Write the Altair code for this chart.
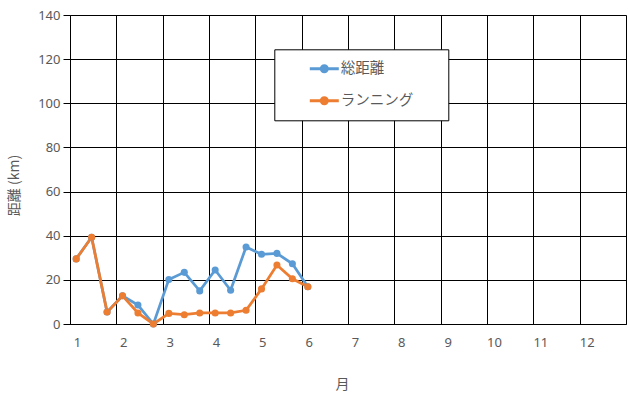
import altair as alt
import pandas as pd

# ---- data ----
months = [1, 1, 1, 2, 2, 2, 3, 3, 3, 4, 4, 4, 5, 5, 5, 6]
days = [5, 15, 25, 5, 15, 25, 5, 15, 25, 5, 15, 25, 5, 15, 25, 5]
total_km = [29.5, 39.3, 5.4, 12.8, 8.6, 0.0, 20.2, 23.4, 15.0, 24.5, 15.3, 34.9, 31.6, 32.0, 27.3, 16.9]
running_km = [29.5, 39.3, 5.4, 12.8, 5.0, 0.0, 4.8, 4.2, 5.0, 5.0, 5.0, 6.2, 15.9, 26.7, 20.5, 16.9]
series_names = ["総距離", "ランニング"]
series_colors = ["#5B9BD5", "#ED7D31"]
x_ticks = list(range(1, 14))
y_ticks = [0, 20, 40, 60, 80, 100, 120, 140]

rows = []
for name, vals in zip(series_names, [total_km, running_km]):
    for m, d, v in zip(months, days, vals):
        rows.append({"month": m + (d - 1) / 30.0, "km": v, "series": name})
df = pd.DataFrame(rows)
df["order"] = range(len(df))

JP = "Noto Sans CJK JP"
NUM = "Noto Sans"
GRAY = "#595959"

x_enc = alt.X(
    "month:Q",
    scale=alt.Scale(domain=[1, 13], nice=False, zero=False),
    axis=alt.Axis(
        values=x_ticks,
        labelExpr="datum.value == 13 ? '' : datum.label",
        grid=True, gridColor="black", gridOpacity=1, gridWidth=1,
        ticks=False, domainColor="black", domainWidth=1,
        labelFont=NUM, labelFontSize=13, labelColor=GRAY,
        labelAlign="center", labelOffset=7, labelPadding=12,
        title="月", titleFont=JP, titleFontSize=14, titleFontWeight="normal",
        titleColor=GRAY, titleX=272, titleY=60, titleBaseline="middle",
        titleAlign="center",
    ),
)
y_enc = alt.Y(
    "km:Q",
    scale=alt.Scale(domain=[0, 140], nice=False),
    axis=alt.Axis(
        values=y_ticks,
        grid=True, gridColor="black", gridOpacity=1, gridWidth=1,
        ticks=True, tickSize=7, tickColor="black", domainColor="black",
        labelFont=NUM, labelFontSize=13, labelColor=GRAY, labelPadding=3,
        title="距離 (km)", titleFont=JP, titleFontSize=14, titleFontWeight="normal",
        titleColor=GRAY, titleX=-56, titleY=170, titleAngle=270,
        titleBaseline="middle", titleAlign="center",
    ),
)

sym_path = (
    "M-1,0L1,0"
    "M-0.207,0A0.207,0.207,0,1,0,0.207,0A0.207,0.207,0,1,0,-0.207,0"
    "M-0.103,0A0.103,0.103,0,1,0,0.103,0A0.103,0.103,0,1,0,-0.103,0"
)

color_scale = alt.Scale(domain=series_names, range=series_colors)

lines = alt.Chart(df).mark_line(strokeWidth=2.75).encode(
    x=x_enc,
    y=y_enc,
    color=alt.Color(
        "series:N",
        scale=color_scale,
        sort=series_names,
        legend=alt.Legend(
            orient="none", legendX=204.3, legendY=34.3,
            padding=12, fillColor="white", strokeColor="black",
            clipHeight=15, rowPadding=16,
            symbolType=sym_path, symbolSize=841, symbolStrokeWidth=3,
            symbolOffset=22, labelOffset=0.5,
            labelFont=JP, labelFontSize=14.5, labelColor=GRAY,
            title="\u00a0", titleOrient="right", titlePadding=23, titleFontSize=1,
        ),
    ),
    detail="series:N",
    order="order:Q",
)

points = alt.Chart(df).mark_point(filled=True, size=50, opacity=1).encode(
    x=alt.X("month:Q"),
    y=alt.Y("km:Q"),
    color=alt.Color("series:N", scale=color_scale, legend=None),
    order="order:Q",
)

chart = alt.layer(lines, points).properties(
    width=556,
    height=309,
    padding={"left": 70, "top": 15, "right": 3, "bottom": 71},
    autosize=alt.AutoSizeParams(type="none"),
).configure_view(stroke="black", strokeWidth=1).configure(background="white")

chart.save("out.html", embed_options={"renderer": "svg", "actions": False})
